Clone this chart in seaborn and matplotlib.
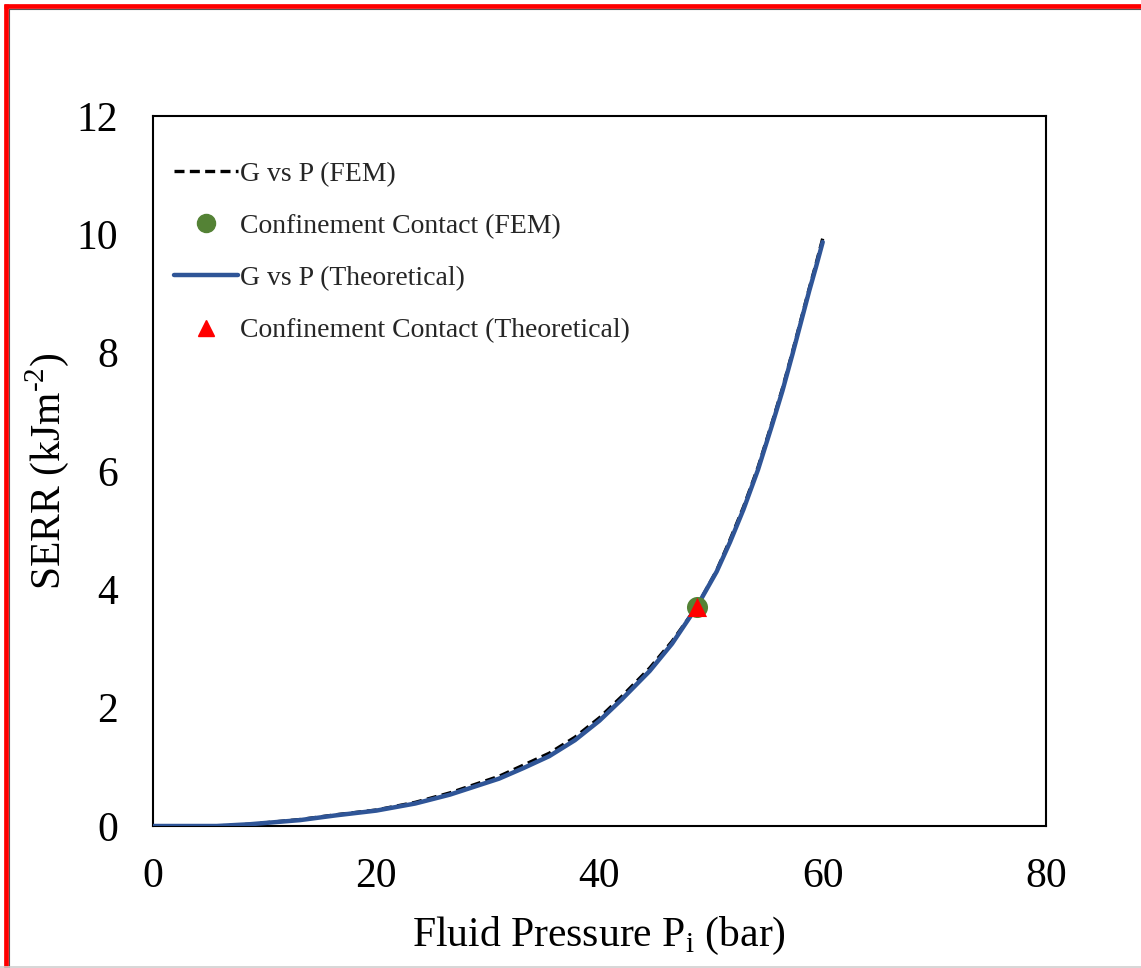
import matplotlib
matplotlib.use("Agg")
import matplotlib.pyplot as plt
from matplotlib.lines import Line2D
import seaborn as sns
import pandas as pd

# Fluid pressure (bar) and strain energy release rate (kJ/m^2)
p_theory = [0, 5.7, 8.7, 13.2, 16.4, 20, 23.5, 26.6, 31, 33.2, 35.5, 37.8, 40,
            42, 44.5, 46.5, 48.7, 50.5, 51.7, 52.9, 54.2, 55.5, 56.4, 57.3,
            58.8, 59.4, 60]
g_theory = [0, 0, 0.03, 0.10, 0.18, 0.26, 0.38, 0.53, 0.80, 0.98, 1.18, 1.45,
            1.78, 2.14, 2.62, 3.08, 3.70, 4.30, 4.80, 5.35, 6.02, 6.80, 7.36,
            7.98, 9.05, 9.45, 9.87]

p_fem = [0, 5.7, 8.7, 13.2, 16.4, 20, 23.5, 26.6, 31, 33.2, 35.5, 37.8, 40,
         42, 44.5, 46.5, 48.7, 50.5, 51.7, 52.9, 54.2, 55.5, 56.4, 57.3,
         58.8, 59.4, 60]
g_fem = [0, 0, 0.03, 0.11, 0.19, 0.27, 0.40, 0.56, 0.84, 1.03, 1.23, 1.50,
         1.83, 2.19, 2.67, 3.12, 3.70, 4.32, 4.84, 5.39, 6.06, 6.84, 7.40,
         8.02, 9.09, 9.50, 9.93]

# Confinement contact points
contact_fem_p, contact_fem_g = [48.7], [3.70]
contact_th_p, contact_th_g = [48.7], [3.70]

x_ticks = [0, 20, 40, 60, 80]
y_ticks = [0, 2, 4, 6, 8, 10, 12]

sns.set_theme(style="white")
plt.rcParams["font.family"] = ["Liberation Serif", "DejaVu Serif"]
plt.rcParams["mathtext.fontset"] = "custom"
plt.rcParams["mathtext.rm"] = "Liberation Serif"

fig = plt.figure(figsize=(11.41, 9.68), dpi=100)
ax = fig.add_axes([0.1341, 0.1467, 0.7826, 0.7335])

df_fem = pd.DataFrame({"P": p_fem, "G": g_fem})
df_th = pd.DataFrame({"P": p_theory, "G": g_theory})

sns.lineplot(data=df_fem, x="P", y="G", ax=ax, color="black", lw=2.4,
             linestyle=(0, (3, 1.6)), sort=False, zorder=2)
sns.lineplot(data=df_th, x="P", y="G", ax=ax, color="#2F5597", lw=3.2,
             sort=False, zorder=3)
sns.scatterplot(x=contact_fem_p, y=contact_fem_g, ax=ax, color="#548235",
                marker="o", s=230, linewidth=0, zorder=4)
sns.scatterplot(x=contact_th_p, y=contact_th_g, ax=ax, color="#FF0000",
                marker="^", s=190, linewidth=0, zorder=5)

ax.set_xlim(0, 80)
ax.set_ylim(0, 12)
ax.set_xticks(x_ticks)
ax.set_yticks(y_ticks)
ax.tick_params(direction="in", length=9, width=1.5, labelsize=30,
               colors="black")
ax.tick_params(axis="x", pad=23)
ax.tick_params(axis="y", pad=25)
for s in ax.spines.values():
    s.set_color("black")
    s.set_linewidth(1.5)

ax.set_xlabel(r"Fluid Pressure P$_{\mathregular{i}}$ (bar)", fontsize=30,
              color="black", labelpad=13)
ax.set_ylabel("SERR (kJm$^{\\mathregular{\u20102}}$)", fontsize=30,
              color="black", labelpad=4)

handles = [
    Line2D([], [], color="black", lw=2.4, linestyle=(0, (3, 1.6))),
    Line2D([], [], color="#548235", marker="o", markersize=13, lw=0),
    Line2D([], [], color="#2F5597", lw=3.2),
    Line2D([], [], color="#FF0000", marker="^", markersize=12, lw=0),
]
labels = ["G vs P (FEM)", "Confinement Contact (FEM)",
          "G vs P (Theoretical)", "Confinement Contact (Theoretical)"]
ax.legend(handles, labels, loc="upper left", frameon=False, fontsize=20,
          handlelength=2.3, handletextpad=0.1, labelspacing=0.96,
          bbox_to_anchor=(-0.008, 0.975), borderaxespad=0.6)

# Page frame: red edge along the left and top, light rule along the bottom
W, H = 1141, 968
fig.add_artist(Line2D([6 / W, 6 / W], [0, 1 - 4 / H], color="red", lw=3.4,
                      transform=fig.transFigure, solid_capstyle="butt"))
fig.add_artist(Line2D([4 / W, 1], [1 - 6 / H, 1 - 6 / H], color="red", lw=3.4,
                      transform=fig.transFigure, solid_capstyle="butt"))
fig.add_artist(Line2D([9 / W, 9 / W], [0, 1 - 8.5 / H], color="#555555",
                      lw=0.8, transform=fig.transFigure))
fig.add_artist(Line2D([8.5 / W, 1], [1 - 9 / H, 1 - 9 / H], color="#555555",
                      lw=0.8, transform=fig.transFigure))
fig.add_artist(Line2D([0, 1], [1.2 / H, 1.2 / H], color="#d0d0d0", lw=1.2,
                      transform=fig.transFigure))

fig.savefig("out.png", dpi=100, facecolor="white")
